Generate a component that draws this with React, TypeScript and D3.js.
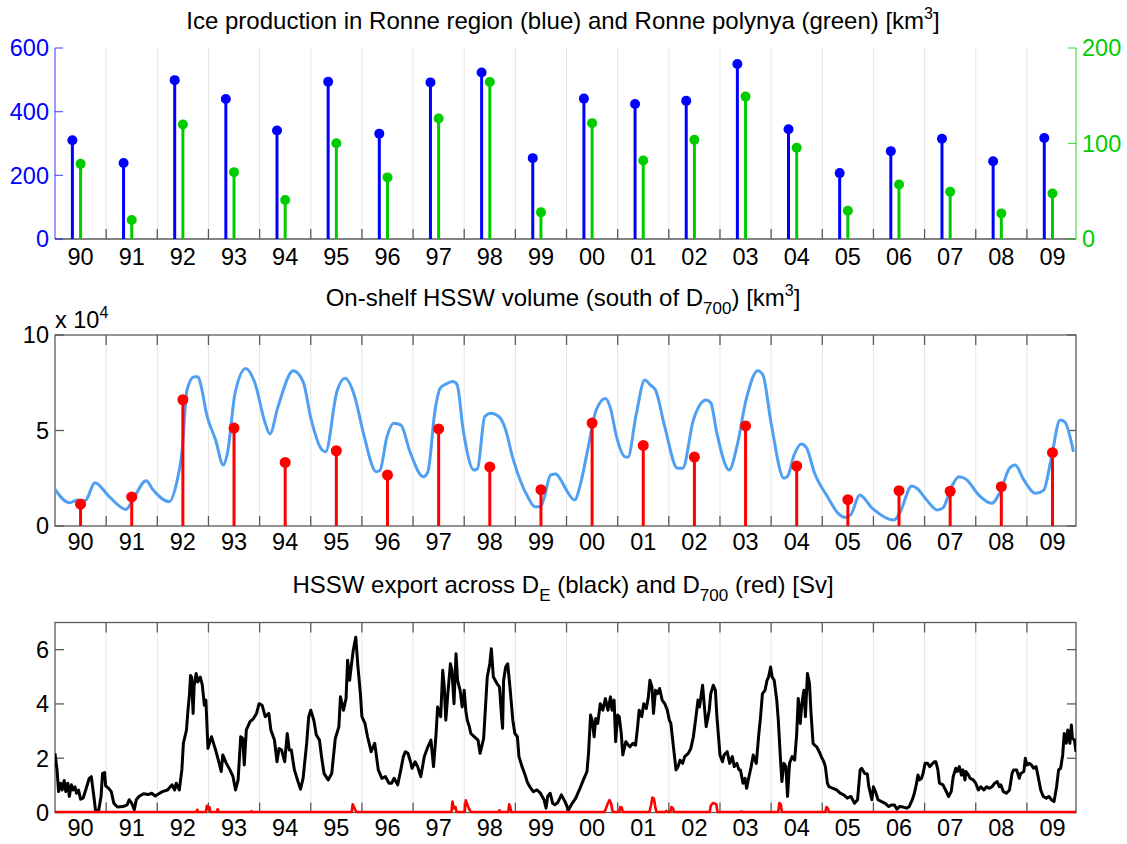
import React from "react";
import * as d3 from "d3";

// ---------------- DATA ----------------
const yearLabels = ["90","91","92","93","94","95","96","97","98","99","00","01","02","03","04","05","06","07","08","09"];
const yearStarts = [1990,1991,1992,1993,1994,1995,1996,1997,1998,1999,2000,2001,2002,2003,2004,2005,2006,2007,2008,2009];

// Ice production [km3]
const iceRonneRegion = [310,239,499,440,341,494,331,492,523,254,441,424,434,550,345,207,276,315,244,317];
const iceRonnePolynya = [78.7,19.9,119.9,70,40.8,100.3,64.5,126.1,164.4,27.9,121.3,82.2,103.8,149.1,95.5,29.6,57.1,49.5,26.8,47.7];

const leftTicks1 = [0,200,400,600];
const rightTicks1 = [0,100,200];

// On-shelf HSSW volume (x 1e4 km3)
const hsswAnnual = [1.14,1.52,6.61,5.13,3.33,3.94,2.67,5.08,3.09,1.90,5.39,4.22,3.61,5.24,3.14,1.38,1.85,1.82,2.06,3.84];
const hsswVolume: [number, number][] = [
  [1990.0,1.92],[1990.28,1.22],[1990.45,1.36],[1990.59,1.33],[1990.78,2.27],[1991.05,1.57],[1991.39,0.87],[1991.52,1.36],
  [1991.78,2.37],[1991.92,1.88],[1992.23,1.27],[1992.39,2.41],[1992.48,3.80],[1992.58,7.12],[1992.72,7.82],[1992.80,7.8],
  [1992.86,7.29],[1992.96,5.90],[1993.14,4.50],[1993.29,3.19],[1993.37,3.80],[1993.52,6.95],[1993.73,8.25],[1993.91,7.47],
  [1994.11,5.38],[1994.20,4.82],[1994.36,6.25],[1994.66,8.13],[1994.85,7.56],[1995.01,5.55],[1995.22,3.98],[1995.29,3.89],
  [1995.51,7.03],[1995.67,7.73],[1995.86,6.77],[1996.03,4.85],[1996.28,2.84],[1996.35,2.90],[1996.49,4.68],[1996.62,5.38],
  [1996.76,5.29],[1996.94,3.89],[1997.20,2.58],[1997.29,2.84],[1997.43,6.07],[1997.53,7.21],[1997.64,7.43],[1997.78,7.56],
  [1997.86,7.4],[1997.98,5.03],[1998.19,2.93],[1998.26,3.0],[1998.40,5.72],[1998.52,5.90],[1998.68,5.72],[1998.79,5.20],
  [1998.96,3.46],[1999.24,1.54],[1999.38,1.01],[1999.49,1.01],[1999.55,1.36],[1999.69,2.67],[1999.79,2.72],[1999.89,2.41],
  [1999.98,1.97],[2000.16,1.36],[2000.26,2.06],[2000.40,3.80],[2000.58,6.07],[2000.76,6.68],[2000.86,6.16],[2000.97,4.76],
  [2001.14,3.63],[2001.20,3.6],[2001.36,5.81],[2001.53,7.64],[2001.64,7.38],[2001.74,7.12],[2001.92,5.20],[2002.17,3.02],
  [2002.27,3.02],[2002.48,5.55],[2002.73,6.60],[2002.82,6.45],[2002.94,4.85],[2003.18,2.93],[2003.33,4.15],[2003.51,6.60],
  [2003.74,8.13],[2003.84,7.9],[2004.0,5.38],[2004.25,2.50],[2004.32,2.6],[2004.45,3.72],[2004.59,4.29],[2004.69,4.1],
  [2004.85,2.76],[2005.10,1.54],[2005.31,0.66],[2005.45,0.45],[2005.56,0.6],[2005.73,1.62],[2005.98,0.92],[2006.40,0.31],
  [2006.51,0.66],[2006.75,2.09],[2006.86,1.95],[2007.04,1.36],[2007.25,0.84],[2007.36,0.95],[2007.53,2.06],[2007.67,2.58],
  [2007.81,2.45],[2008.06,1.62],[2008.31,1.19],[2008.48,1.80],[2008.66,3.02],[2008.77,3.19],[2008.94,2.41],[2009.17,1.71],
  [2009.33,1.88],[2009.47,3.46],[2009.65,5.55],[2009.74,5.45],[2009.91,3.89]
];
const ticks2 = [0,5,10];

// HSSW export [Sv]
const exportDE: [number, number][] = [
  [1990.00,2.18],[1990.04,1.57],[1990.07,0.77],[1990.11,1.08],[1990.14,0.83],[1990.18,1.18],[1990.21,0.77],[1990.25,1.08],
  [1990.28,0.59],[1990.32,1.02],[1990.35,0.83],[1990.39,0.95],[1990.42,0.71],[1990.46,0.83],[1990.50,0.49],[1990.55,0.53],
  [1990.60,0.83],[1990.67,1.26],[1990.71,1.32],[1990.76,0.59],[1990.79,0.10],[1990.85,0.04],[1990.90,0.59],[1990.93,1.44],
  [1990.97,1.47],[1990.99,0.98],[1991.05,0.89],[1991.10,0.77],[1991.15,0.34],[1991.22,0.20],[1991.33,0.22],[1991.41,0.28],
  [1991.45,0.47],[1991.50,0.34],[1991.55,0.10],[1991.59,0.47],[1991.64,0.59],[1991.73,0.69],[1991.82,0.66],[1991.89,0.71],
  [1991.96,0.61],[1992.03,0.69],[1992.10,0.77],[1992.20,0.83],[1992.29,1.02],[1992.34,0.83],[1992.37,1.08],[1992.43,0.83],
  [1992.48,1.57],[1992.51,2.55],[1992.57,3.04],[1992.60,3.77],[1992.63,4.38],[1992.65,5.05],[1992.67,4.99],[1992.70,3.65],
  [1992.72,4.69],[1992.76,5.12],[1992.79,4.81],[1992.84,4.99],[1992.88,4.69],[1992.92,3.95],[1992.95,4.14],[1992.99,2.36],
  [1993.02,2.55],[1993.06,2.79],[1993.11,2.48],[1993.14,2.30],[1993.21,1.81],[1993.25,1.51],[1993.28,2.12],[1993.35,1.81],
  [1993.42,1.57],[1993.48,1.32],[1993.53,0.83],[1993.58,1.20],[1993.63,2.79],[1993.67,2.73],[1993.70,1.75],[1993.74,3.04],
  [1993.81,3.34],[1993.88,3.46],[1993.94,3.65],[1993.99,4.01],[1994.05,3.95],[1994.11,3.53],[1994.18,3.65],[1994.22,3.04],
  [1994.29,2.67],[1994.34,1.87],[1994.38,2.36],[1994.43,2.30],[1994.49,1.87],[1994.54,2.91],[1994.58,2.30],[1994.62,2.30],
  [1994.68,1.57],[1994.75,1.14],[1994.80,0.86],[1994.85,1.26],[1994.92,2.55],[1994.96,3.53],[1995.00,3.77],[1995.06,3.40],
  [1995.11,2.85],[1995.17,2.67],[1995.21,2.06],[1995.26,1.44],[1995.34,1.20],[1995.41,1.44],[1995.48,2.73],[1995.55,3.16],
  [1995.58,4.26],[1995.64,3.77],[1995.69,4.20],[1995.72,5.61],[1995.76,4.87],[1995.79,5.36],[1995.83,5.97],[1995.88,6.46],
  [1995.92,5.42],[1995.97,4.38],[1996.00,3.53],[1996.06,3.28],[1996.11,2.79],[1996.18,2.24],[1996.25,2.55],[1996.32,1.57],
  [1996.39,1.26],[1996.46,1.32],[1996.53,1.08],[1996.58,1.08],[1996.63,1.26],[1996.70,1.02],[1996.76,1.57],[1996.81,2.06],
  [1996.85,2.24],[1996.90,2.18],[1996.95,1.87],[1996.98,1.63],[1997.04,1.87],[1997.09,1.69],[1997.15,1.32],[1997.22,2.06],
  [1997.29,2.42],[1997.35,2.67],[1997.40,1.69],[1997.45,2.91],[1997.48,3.89],[1997.54,3.53],[1997.58,5.24],[1997.61,4.63],
  [1997.64,3.40],[1997.68,4.38],[1997.73,5.48],[1997.76,5.24],[1997.80,4.01],[1997.84,5.85],[1997.87,4.87],[1997.92,4.50],
  [1997.96,3.89],[1998.00,4.50],[1998.03,3.77],[1998.06,3.40],[1998.10,3.16],[1998.13,2.91],[1998.20,2.79],[1998.27,2.67],
  [1998.31,2.18],[1998.38,2.73],[1998.45,4.99],[1998.50,5.48],[1998.53,6.03],[1998.57,4.99],[1998.64,4.75],[1998.69,4.63],
  [1998.73,3.53],[1998.75,3.10],[1998.77,4.87],[1998.81,5.36],[1998.85,5.48],[1998.90,4.50],[1998.95,3.40],[1998.99,2.91],
  [1999.04,2.79],[1999.07,2.06],[1999.13,1.69],[1999.18,1.44],[1999.23,1.14],[1999.28,0.95],[1999.35,0.77],[1999.42,0.83],
  [1999.49,0.71],[1999.56,0.47],[1999.60,0.16],[1999.63,0.59],[1999.68,0.71],[1999.73,0.34],[1999.77,0.28],[1999.83,0.37],
  [1999.90,0.65],[1999.97,0.40],[2000.04,0.10],[2000.11,0.34],[2000.18,0.53],[2000.25,0.83],[2000.33,1.20],[2000.40,1.51],
  [2000.43,2.18],[2000.47,3.59],[2000.50,3.40],[2000.54,2.79],[2000.57,3.46],[2000.61,3.28],[2000.66,4.01],[2000.71,3.77],
  [2000.76,4.20],[2000.81,3.77],[2000.86,4.26],[2000.89,3.77],[2000.93,4.14],[2000.96,2.61],[2001.00,3.59],[2001.03,3.53],
  [2001.07,2.91],[2001.10,2.12],[2001.16,2.61],[2001.21,2.48],[2001.24,2.42],[2001.30,2.55],[2001.35,2.48],[2001.39,3.16],
  [2001.42,3.77],[2001.47,3.53],[2001.51,4.01],[2001.56,3.83],[2001.60,4.26],[2001.63,4.87],[2001.67,4.63],[2001.70,3.65],
  [2001.74,4.50],[2001.78,4.38],[2001.82,4.57],[2001.87,4.14],[2001.92,4.01],[2001.97,3.77],[2002.01,3.40],[2002.04,3.28],
  [2002.09,2.42],[2002.14,1.57],[2002.18,1.69],[2002.22,1.93],[2002.27,1.81],[2002.31,2.06],[2002.38,2.18],[2002.43,2.36],
  [2002.48,2.79],[2002.53,3.53],[2002.57,4.14],[2002.60,3.89],[2002.66,4.69],[2002.69,4.01],[2002.73,3.16],[2002.79,3.77],
  [2002.82,4.38],[2002.87,4.69],[2002.91,4.50],[2002.94,3.53],[2003.00,2.12],[2003.05,1.87],[2003.08,2.12],[2003.14,2.24],
  [2003.19,1.81],[2003.24,2.06],[2003.28,1.69],[2003.33,1.81],[2003.37,1.57],[2003.40,1.57],[2003.45,1.08],[2003.49,1.26],
  [2003.52,0.89],[2003.56,1.26],[2003.61,1.69],[2003.65,2.12],[2003.71,1.81],[2003.76,2.91],[2003.79,3.46],[2003.83,4.38],
  [2003.88,4.50],[2003.92,4.87],[2003.95,4.99],[2003.99,5.36],[2004.02,4.99],[2004.06,4.87],[2004.11,4.14],[2004.14,3.40],
  [2004.18,2.06],[2004.21,1.14],[2004.25,1.81],[2004.29,1.69],[2004.32,0.59],[2004.36,1.81],[2004.41,2.06],[2004.46,1.93],
  [2004.50,2.91],[2004.53,4.20],[2004.57,3.28],[2004.60,4.01],[2004.64,4.50],[2004.67,3.53],[2004.71,5.12],[2004.75,4.75],
  [2004.78,3.65],[2004.82,2.55],[2004.85,2.48],[2004.89,2.42],[2004.94,2.24],[2004.98,2.06],[2005.03,1.87],[2005.06,1.69],
  [2005.10,1.08],[2005.13,0.95],[2005.21,0.89],[2005.28,0.83],[2005.35,0.71],[2005.42,0.65],[2005.49,0.53],[2005.56,0.59],
  [2005.63,0.34],[2005.69,0.47],[2005.74,1.57],[2005.77,1.63],[2005.83,1.44],[2005.88,1.42],[2005.91,0.95],[2005.97,0.47],
  [2006.00,0.95],[2006.04,0.77],[2006.09,0.47],[2006.16,0.40],[2006.23,0.34],[2006.30,0.22],[2006.35,0.28],[2006.41,0.28],
  [2006.46,0.12],[2006.51,0.22],[2006.58,0.20],[2006.65,0.16],[2006.70,0.22],[2006.76,0.47],[2006.80,0.71],[2006.83,0.95],
  [2006.87,1.38],[2006.90,1.20],[2006.94,1.26],[2006.97,1.44],[2007.01,1.81],[2007.06,1.81],[2007.10,1.69],[2007.13,1.75],
  [2007.19,1.87],[2007.22,1.87],[2007.26,1.57],[2007.29,1.08],[2007.36,1.02],[2007.41,0.83],[2007.47,0.59],[2007.52,0.77],
  [2007.56,1.32],[2007.61,1.63],[2007.64,1.51],[2007.68,1.69],[2007.72,1.38],[2007.75,1.57],[2007.79,1.20],[2007.81,1.51],
  [2007.86,1.38],[2007.89,1.26],[2007.95,1.20],[2008.00,1.08],[2008.05,0.83],[2008.10,0.95],[2008.16,0.83],[2008.21,0.95],
  [2008.26,0.89],[2008.32,0.95],[2008.37,1.08],[2008.42,1.14],[2008.46,0.95],[2008.49,1.02],[2008.54,0.77],[2008.60,0.71],
  [2008.66,0.83],[2008.71,1.44],[2008.74,1.57],[2008.80,1.57],[2008.85,1.26],[2008.88,1.44],[2008.94,1.51],[2008.97,2.00],
  [2009.00,1.75],[2009.05,1.81],[2009.09,1.75],[2009.13,1.63],[2009.18,1.69],[2009.22,1.32],[2009.27,0.83],[2009.32,0.59],
  [2009.38,0.53],[2009.43,0.59],[2009.48,0.47],[2009.53,0.40],[2009.58,0.95],[2009.62,1.57],[2009.66,1.63],[2009.70,2.12],
  [2009.73,2.91],[2009.77,2.55],[2009.80,3.04],[2009.84,2.55],[2009.87,3.22],[2009.89,2.73],[2009.93,2.67],[2009.96,2.24]
];
const exportD700: [number, number][] = [
  [1990.0,0.02],[1992.76,0.02],[1992.78,0.1],[1992.80,0.02],[1992.95,0.02],[1992.97,0.25],[1993.0,0.12],[1993.02,0.2],
  [1993.04,0.02],[1993.16,0.02],[1993.18,0.12],[1993.20,0.02],[1993.83,0.02],[1993.84,0.05],[1993.86,0.02],
  [1995.80,0.02],[1995.82,0.3],[1995.85,0.18],[1995.87,0.1],[1995.89,0.02],
  [1997.75,0.02],[1997.77,0.4],[1997.80,0.15],[1997.83,0.2],[1997.85,0.02],
  [1998.01,0.02],[1998.03,0.45],[1998.06,0.3],[1998.09,0.15],[1998.12,0.05],[1998.14,0.02],
  [1998.68,0.02],[1998.69,0.08],[1998.71,0.02],[1998.86,0.02],[1998.88,0.3],[1998.90,0.2],[1998.92,0.02],
  [2000.74,0.02],[2000.77,0.15],[2000.80,0.3],[2000.84,0.46],[2000.87,0.35],[2000.90,0.05],[2000.92,0.02],
  [2001.03,0.02],[2001.05,0.2],[2001.08,0.18],[2001.10,0.02],
  [2001.62,0.02],[2001.65,0.25],[2001.68,0.55],[2001.71,0.5],[2001.74,0.15],[2001.76,0.02],
  [2001.93,0.02],[2001.95,0.06],[2001.97,0.02],[2002.03,0.02],[2002.05,0.2],[2002.08,0.15],[2002.10,0.02],
  [2002.80,0.02],[2002.82,0.25],[2002.86,0.35],[2002.90,0.33],[2002.93,0.3],[2002.95,0.02],
  [2003.40,0.02],[2003.42,0.04],[2003.44,0.02],
  [2004.14,0.02],[2004.16,0.35],[2004.19,0.3],[2004.21,0.02],
  [2005.06,0.02],[2005.08,0.2],[2005.11,0.15],[2005.13,0.02],
  [2009.96,0.02]
];
const ticks3 = [0,2,4,6];

// ---------------- LAYOUT ----------------
const W = 1127, H = 844;
const L = 55, R = 1076;
const FONT = "'Liberation Sans', Arial, Helvetica, sans-serif";
const FS = 23.5;
const TFS = 24;
const AXC = "#5a5a5a";
const GRIDC = "#e6e6e6";
const BLUE = "#0000ff";
const GREEN = "#00cc00";
const RED = "#ff0000";
const LBLUE = "#4f9ff2";

const x = d3.scaleLinear().domain([1990, 2009.96]).range([L, R]);

const P1 = { top: 48, bottom: 239 };
const P2 = { top: 335, bottom: 526 };
const P3 = { top: 622.5, bottom: 812.5 };

const y1 = d3.scaleLinear().domain([0, 600]).range([P1.bottom, P1.top]);
const y1g = d3.scaleLinear().domain([0, 200]).range([P1.bottom, P1.top]);
const y2 = d3.scaleLinear().domain([0, 10]).range([P2.bottom, P2.top]);
const y3 = d3.scaleLinear().domain([0, 7]).range([P3.bottom, P3.top]);

const gridYears = yearStarts.slice(1);

function Grid({ top, bottom }: { top: number; bottom: number }) {
  return (
    <g>
      {gridYears.map((yr) => (
        <line key={yr} x1={x(yr)} x2={x(yr)} y1={top} y2={bottom} stroke={GRIDC} strokeWidth={1} />
      ))}
    </g>
  );
}

function XTicks({ top, bottom, both, labelY }: { top: number; bottom: number; both: boolean; labelY: number }) {
  return (
    <g>
      {gridYears.map((yr) => (
        <g key={yr}>
          <line x1={x(yr)} x2={x(yr)} y1={bottom} y2={bottom - 10} stroke={AXC} strokeWidth={1.3} />
          {both && <line x1={x(yr)} x2={x(yr)} y1={top} y2={top + 10} stroke={AXC} strokeWidth={1.3} />}
        </g>
      ))}
      {yearStarts.map((yr, i) => (
        <text key={"l" + yr} x={x(yr + 0.5)} y={labelY} textAnchor="middle" fontSize={FS} fontFamily={FONT} fill="#000">
          {yearLabels[i]}
        </text>
      ))}
    </g>
  );
}

function Box({ top, bottom, ticks, scale }: { top: number; bottom: number; ticks: number[]; scale: d3.ScaleLinear<number, number> }) {
  return (
    <g>
      <rect x={L} y={top} width={R - L} height={bottom - top} fill="none" stroke={AXC} strokeWidth={1.3} />
      {ticks.map((t) => (
        <g key={t}>
          <line x1={L} x2={L + 9} y1={scale(t)} y2={scale(t)} stroke={AXC} strokeWidth={1.3} />
          <line x1={R} x2={R - 9} y1={scale(t)} y2={scale(t)} stroke={AXC} strokeWidth={1.3} />
          <text x={L - 6} y={scale(t)} dy="0.36em" textAnchor="end" fontSize={FS} fontFamily={FONT} fill="#000">
            {t}
          </text>
        </g>
      ))}
    </g>
  );
}

export default function App() {
  const line2 = d3
    .line<[number, number]>()
    .x((d) => x(d[0]))
    .y((d) => y2(d[1]))
    .curve(d3.curveMonotoneX);
  const line3 = d3
    .line<[number, number]>()
    .x((d) => x(d[0]))
    .y((d) => y3(d[1]));

  return (
    <svg
      width={W}
      height={H}
      viewBox={`0 0 ${W} ${H}`}
      style={{ position: "absolute", left: 0, top: 0, display: "block", background: "#fff" }}
    >
      <defs>
        <clipPath id="c2">
          <rect x={L} y={P2.top} width={R - L} height={P2.bottom - P2.top} />
        </clipPath>
        <clipPath id="c3">
          <rect x={L} y={P3.top} width={R - L} height={P3.bottom - P3.top + 3} />
        </clipPath>
      </defs>
      <rect x={0} y={0} width={W} height={H} fill="#fff" />

      {/* ---------- Panel 1 ---------- */}
      <text x={563} y={29} textAnchor="middle" fontSize={TFS} fontFamily={FONT} fill="#000">
        Ice production in Ronne region (blue) and Ronne polynya (green) [km
        <tspan fontSize={16} dy={-10}>3</tspan>
        <tspan dy={10}>]</tspan>
      </text>
      <Grid top={P1.top} bottom={P1.bottom} />
      <line x1={L} x2={R} y1={P1.bottom} y2={P1.bottom} stroke={AXC} strokeWidth={1.3} />
      <XTicks top={P1.top} bottom={P1.bottom} both={false} labelY={265} />
      <line x1={L} x2={L} y1={P1.top} y2={P1.bottom} stroke={BLUE} strokeOpacity={0.65} strokeWidth={1.2} />
      {leftTicks1.map((t) => (
        <g key={"lt" + t}>
          <line x1={L} x2={L + 8} y1={y1(t)} y2={y1(t)} stroke={BLUE} strokeOpacity={0.65} strokeWidth={1.2} />
          <text x={L - 6} y={y1(t)} dy="0.36em" textAnchor="end" fontSize={FS} fontFamily={FONT} fill={BLUE}>
            {t}
          </text>
        </g>
      ))}
      <line x1={R} x2={R} y1={P1.top} y2={P1.bottom} stroke={GREEN} strokeOpacity={0.7} strokeWidth={1.2} />
      {rightTicks1.map((t) => (
        <g key={"rt" + t}>
          <line x1={R} x2={R - 8} y1={y1g(t)} y2={y1g(t)} stroke={GREEN} strokeOpacity={0.7} strokeWidth={1.2} />
          <text x={R + 6} y={y1g(t)} dy="0.36em" textAnchor="start" fontSize={FS} fontFamily={FONT} fill={GREEN}>
            {t}
          </text>
        </g>
      ))}
      {yearStarts.map((yr, i) => (
        <g key={"ice" + yr}>
          <line x1={x(yr + 0.34)} x2={x(yr + 0.34)} y1={y1(0)} y2={y1(iceRonneRegion[i])} stroke={BLUE} strokeWidth={3} />
          <circle cx={x(yr + 0.34)} cy={y1(iceRonneRegion[i])} r={5} fill={BLUE} />
          <line x1={x(yr + 0.5)} x2={x(yr + 0.5)} y1={y1g(0)} y2={y1g(iceRonnePolynya[i])} stroke={GREEN} strokeWidth={3} />
          <circle cx={x(yr + 0.5)} cy={y1g(iceRonnePolynya[i])} r={5} fill={GREEN} />
        </g>
      ))}

      {/* ---------- Panel 2 ---------- */}
      <text x={563} y={306} textAnchor="middle" fontSize={TFS} fontFamily={FONT} fill="#000">
        On-shelf HSSW volume (south of D
        <tspan fontSize={17} dy={8}>700</tspan>
        <tspan dy={-8}>) [km</tspan>
        <tspan fontSize={16} dy={-10}>3</tspan>
        <tspan dy={10}>]</tspan>
      </text>
      <text x={L} y={328} textAnchor="start" fontSize={FS} fontFamily={FONT} fill="#000">
        x 10
        <tspan fontSize={16} dy={-10}>4</tspan>
      </text>
      <Grid top={P2.top} bottom={P2.bottom} />
      <Box top={P2.top} bottom={P2.bottom} ticks={ticks2} scale={y2} />
      <XTicks top={P2.top} bottom={P2.bottom} both={true} labelY={550} />
      <g clipPath="url(#c2)">
        <path d={line2(hsswVolume) || ""} fill="none" stroke={LBLUE} strokeWidth={3} strokeLinejoin="round" />
      </g>
      {yearStarts.map((yr, i) => (
        <g key={"hs" + yr}>
          <line x1={x(yr + 0.5)} x2={x(yr + 0.5)} y1={y2(0)} y2={y2(hsswAnnual[i])} stroke={RED} strokeWidth={3} />
          <circle cx={x(yr + 0.5)} cy={y2(hsswAnnual[i])} r={5.5} fill={RED} />
        </g>
      ))}

      {/* ---------- Panel 3 ---------- */}
      <text x={563} y={593} textAnchor="middle" fontSize={TFS} fontFamily={FONT} fill="#000">
        HSSW export across D
        <tspan fontSize={17} dy={8}>E</tspan>
        <tspan dy={-8}> (black) and D</tspan>
        <tspan fontSize={17} dy={8}>700</tspan>
        <tspan dy={-8}> (red) [Sv]</tspan>
      </text>
      <Grid top={P3.top} bottom={P3.bottom} />
      <Box top={P3.top} bottom={P3.bottom} ticks={ticks3} scale={y3} />
      <XTicks top={P3.top} bottom={P3.bottom} both={true} labelY={836} />
      <g clipPath="url(#c3)">
        <path d={line3(exportDE) || ""} fill="none" stroke="#000" strokeWidth={3} strokeLinejoin="round" />
        <path d={line3(exportD700) || ""} fill="none" stroke={RED} strokeWidth={2.6} strokeLinejoin="round" />
      </g>
    </svg>
  );
}
